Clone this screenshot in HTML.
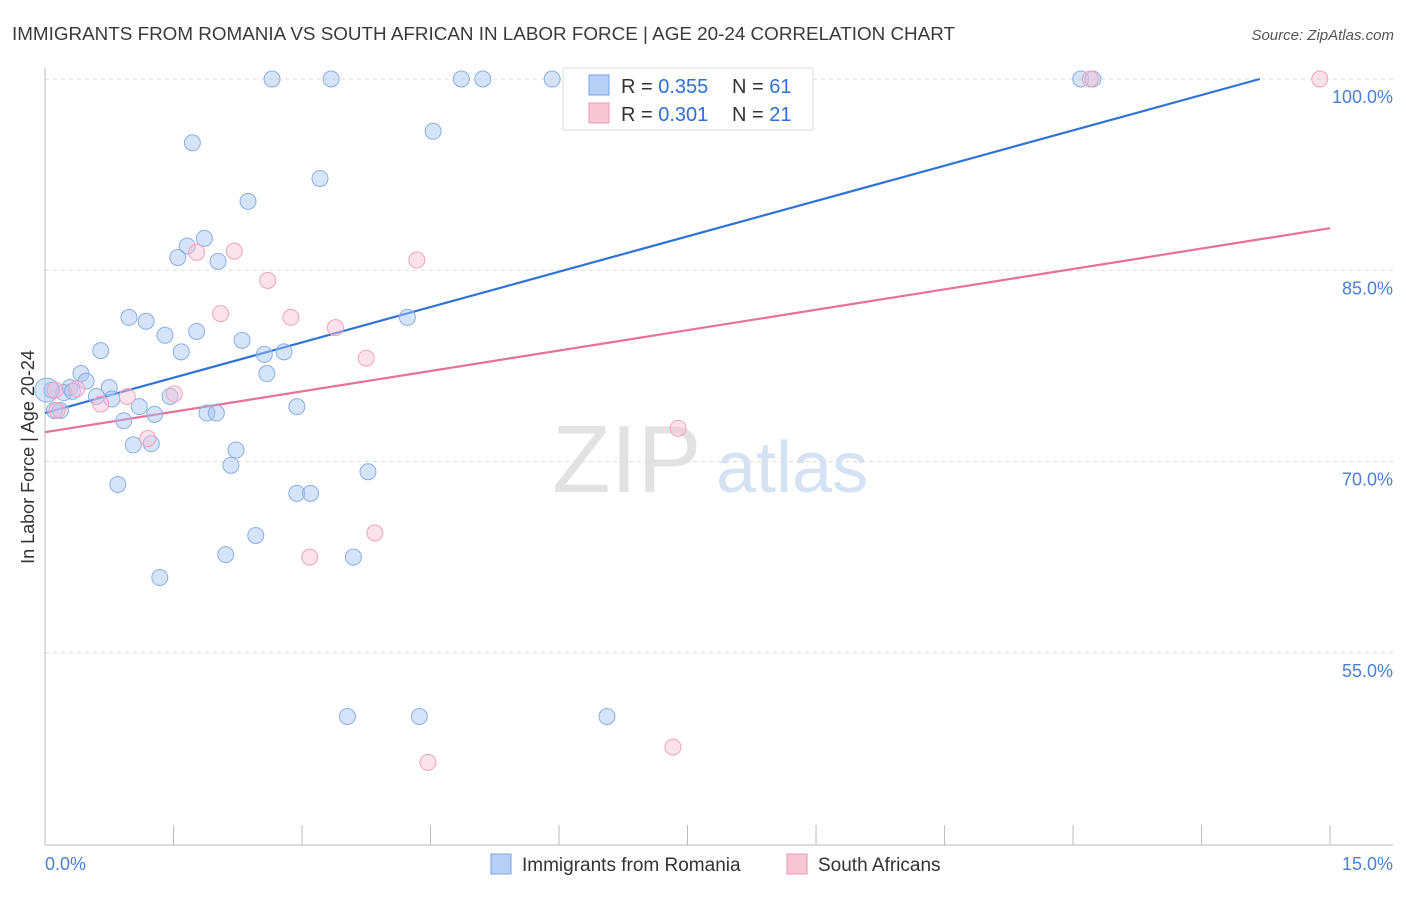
<!DOCTYPE html>
<html><head><meta charset="utf-8">
<style>
body{margin:0;background:#fff;font-family:"Liberation Sans",sans-serif;}
svg text{font-family:"Liberation Sans",sans-serif;}
</style></head>
<body>
<svg id="chart" width="1406" height="892" viewBox="0 0 1406 892">
<text x="12" y="40" font-size="18" fill="#3a3a3a" textLength="943" lengthAdjust="spacingAndGlyphs">IMMIGRANTS FROM ROMANIA VS SOUTH AFRICAN IN LABOR FORCE | AGE 20-24 CORRELATION CHART</text>
<text x="1394" y="40" font-size="15" fill="#555" text-anchor="end" font-style="italic">Source: ZipAtlas.com</text>
<g>
<text x="552" y="492" font-size="96" fill="#e2e2e2" font-family="Liberation Serif">ZIP</text>
<text x="716" y="492" font-size="72" fill="#d5e2f3">atlas</text>
</g>
<g id="grid"></g>
<g id="axes"></g>
<g id="lines"></g>
<g id="points"></g>
<text transform="translate(34,457) rotate(-90)" font-size="18" fill="#333" text-anchor="middle">In Labor Force | Age 20-24</text>
<text x="45" y="870" font-size="18" fill="#4a7fd4">0.0%</text>
<text x="1393" y="870" font-size="18" fill="#4a7fd4" text-anchor="end">15.0%</text>
<g>
<rect x="563" y="68" width="250" height="62" fill="#fff" stroke="#ddd"/>
<rect x="589" y="75" width="20" height="20" fill="#b8d0f5" stroke="#7aa3e3"/>
<rect x="589" y="103" width="20" height="20" fill="#f9c6d6" stroke="#ec96b3"/>
<text x="621" y="93" font-size="20" fill="#333">R = <tspan fill="#2f6fd6">0.355</tspan></text>
<text x="732" y="93" font-size="20" fill="#333">N = <tspan fill="#2f6fd6">61</tspan></text>
<text x="621" y="121" font-size="20" fill="#333">R = <tspan fill="#2f6fd6">0.301</tspan></text>
<text x="732" y="121" font-size="20" fill="#333">N = <tspan fill="#2f6fd6">21</tspan></text>
</g>
<g>
<rect x="491" y="854" width="20" height="20" fill="#b8d0f5" stroke="#7aa3e3"/>
<text x="522" y="871" font-size="19" fill="#333">Immigrants from Romania</text>
<rect x="787" y="854" width="20" height="20" fill="#f9c6d6" stroke="#ec96b3"/>
<text x="818" y="871" font-size="19" fill="#333">South Africans</text>
</g>
</svg>
<script>
const yTicks=[100,85,70,55];
const yTickLabels=["100.0%","85.0%","70.0%","55.0%"];
const xTicks=[0,1.5,3,4.5,6,7.5,9,10.5,12,13.5,15];
const blueX=[2.65,3.34,4.86,5.11,5.92,6.35,12.09,12.23,4.53,1.72,3.21,2.37,1.86,1.66,1.55,2.02,0.98,1.18,4.23,1.40,1.77,2.30,0.65,1.59,2.56,2.79,2.59,0.42,0.48,0.75,0.29,0.08,0.22,0.60,0.78,1.46,1.10,2.94,1.28,1.89,2.00,0.11,0.92,1.03,1.24,2.23,2.17,3.77,0.85,2.94,3.10,2.46,2.11,3.60,1.34,3.53,4.37,6.56,0.02,0.18,0.32];
const blueY=[100,100,100,100,100,100,100,100,95.9,95.0,92.2,90.4,87.5,86.9,86.0,85.7,81.3,81.0,81.3,79.9,80.2,79.5,78.7,78.6,78.4,78.6,76.9,76.9,76.3,75.8,75.8,75.6,75.4,75.1,74.9,75.1,74.3,74.3,73.7,73.8,73.8,74.0,73.2,71.3,71.4,70.9,69.7,69.2,68.2,67.5,67.5,64.2,62.7,62.5,60.9,50.0,50.0,50.0,75.6,74.0,75.5];
const pinkX=[14.88,12.20,2.21,1.77,2.60,4.34,2.05,2.87,3.39,3.75,0.96,1.51,0.65,0.37,1.20,7.39,3.85,3.09,7.33,4.47,0.12,0.14];
const pinkY=[100,100,86.5,86.4,84.2,85.8,81.6,81.3,80.5,78.1,75.1,75.3,74.5,75.7,71.8,72.6,64.4,62.5,47.6,46.4,75.6,74.0];
const blueTrend=[[0,73.8],[14.18,100]];
const pinkTrend=[[0,72.3],[15,88.3]];
const NS="http://www.w3.org/2000/svg";
const sx=v=>45+v*85.67;
const sy=v=>79+(100-v)*12.75;
function mk(t,a,p){const e=document.createElementNS(NS,t);for(const k in a)e.setAttribute(k,a[k]);p.appendChild(e);return e;}
const grid=document.getElementById('grid'),axes=document.getElementById('axes');
yTicks.forEach((v,i)=>{
 const l=mk('line',{x1:45,x2:1393,y1:sy(v),y2:sy(v),stroke:'#ddd','stroke-dasharray':'4,4'},grid);
 
 
 const t=mk('text',{x:1393,y:sy(v)+24,'font-size':18,fill:'#4a7fd4','text-anchor':'end'},grid);
 t.textContent=yTickLabels[i];
 
 
});
const ya=mk('line',{x1:45,x2:45,y1:68,y2:845,stroke:'#bbb'},axes);


const xa=mk('line',{x1:45,x2:1393,y1:845,y2:845,stroke:'#bbb'},axes);


xTicks.forEach(v=>{
 const t=mk('line',{x1:sx(v),x2:sx(v),y1:825,y2:845,stroke:'#bbb'},axes);
 
 
});
const lines=document.getElementById('lines');
const bl=mk('line',{x1:sx(blueTrend[0][0]),y1:sy(blueTrend[0][1]),x2:sx(blueTrend[1][0]),y2:sy(blueTrend[1][1]),stroke:'#2f72d8','stroke-width':2.2},lines);


const pl=mk('line',{x1:sx(pinkTrend[0][0]),y1:sy(pinkTrend[0][1]),x2:sx(pinkTrend[1][0]),y2:sy(pinkTrend[1][1]),stroke:'#e8709a','stroke-width':2.2},lines);


const pts=document.getElementById('points');
blueX.forEach((x,i)=>{
 const c=mk('circle',{cx:sx(x),cy:sy(blueY[i]),r:i==58?12:8,fill:'rgba(165,195,242,0.45)',stroke:'#8aaee6','stroke-width':1},pts);
 
 
});
pinkX.forEach((x,i)=>{
 const c=mk('circle',{cx:sx(x),cy:sy(pinkY[i]),r:8,fill:'rgba(249,190,210,0.45)',stroke:'#efa2bc','stroke-width':1},pts);
 
 
});
</script>
</body></html>
